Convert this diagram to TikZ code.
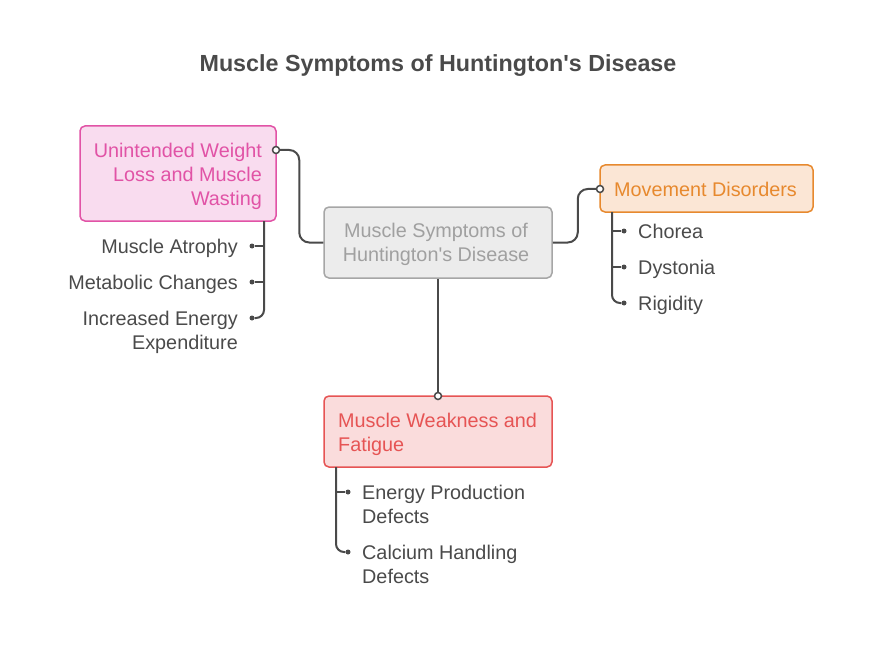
\documentclass[tikz,border=0pt]{standalone}
\usepackage{fontspec}
\setmainfont{Liberation Sans}
\definecolor{ink}{HTML}{4A4A4A}
\definecolor{cfill}{HTML}{ECECEC}
\definecolor{cdraw}{HTML}{A6A6A6}
\definecolor{ctext}{HTML}{A0A0A0}
\definecolor{pfill}{HTML}{F9DCEF}
\definecolor{pdraw}{HTML}{E153A6}
\definecolor{ofill}{HTML}{FBE6D5}
\definecolor{odraw}{HTML}{E7892E}
\definecolor{rfill}{HTML}{FADCDC}
\definecolor{rdraw}{HTML}{E65454}
\newcommand\bodyfont{\fontsize{19.8}{24}\selectfont}
\begin{document}
\begin{tikzpicture}[x=1pt,y=-1pt,
  box/.style={draw,rounded corners=5pt,line width=1.5pt,inner sep=0pt},
  lbl/.style={inner sep=0pt,font=\bodyfont,text=ink},
  conn/.style={draw=ink,line width=2pt,rounded corners=10pt},
  branch/.style={draw=ink,line width=2pt,rounded corners=8pt},
  port/.style={circle,draw=ink,fill=white,line width=1.5pt,minimum size=7pt,inner sep=0pt},
  dot/.style={circle,fill=ink,minimum size=5pt,inner sep=0pt}]
\useasboundingbox (0,0) rectangle (876,666);
\node[font=\fontsize{23.3}{28}\selectfont\bfseries,text=ink] (title) at (438,65.5) {Muscle Symptoms of Huntington\textquotesingle s Disease};
% boxes
\node[box,draw=cdraw,fill=cfill,minimum width=228pt,minimum height=71pt] (center) at (438,242.5) {};
\node[lbl,text=ctext,align=center] (centert) at (436,244.5) {Muscle Symptoms of\\Huntington\textquotesingle s Disease};
\node[box,draw=pdraw,fill=pfill,minimum width=196pt,minimum height=95pt] (pink) at (178,173.5) {};
\node[lbl,text=pdraw,align=right,anchor=east] (pinkt) at (262,176) {Unintended Weight\\Loss and Muscle\\Wasting};
\node[box,draw=odraw,fill=ofill,minimum width=213pt,minimum height=47pt] (orange) at (706.5,188.5) {};
\node[lbl,text=odraw,anchor=west] (oranget) at (614,189.5) {Movement Disorders};
\node[box,draw=rdraw,fill=rfill,minimum width=228pt,minimum height=71pt] (red) at (438,431.5) {};
\node[lbl,text=rdraw,align=left,anchor=west] (redt) at (338,434) {Muscle Weakness and\\Fatigue};
% ports
\coordinate (pinkport) at (276,150);
\coordinate (orangeport) at (600,189);
\coordinate (redport) at (438,396);
\draw[conn] (center.west) -- ++(-24,0) |- (pinkport);
\draw[conn] (center.east) -- ++(25,0) |- (orangeport);
\draw[conn] (center.south) -- (redport);
\node[port] (pp) at (pinkport) {};
\node[port] (op) at (orangeport) {};
\node[port] (rp) at (redport) {};
% pink children
\node[dot] (pa) at (252,246) {};
\node[dot] (pb) at (252,282) {};
\node[dot] (pc) at (252,318) {};
\coordinate (ptop) at (264,221);
\draw[branch] (ptop) |- (pc);
\draw[branch] (pa -| ptop) -- (pa);
\draw[branch] (pb -| ptop) -- (pb);
\node[lbl,anchor=east] (pat) at (238,248) {Muscle Atrophy};
\node[lbl,anchor=east] (pbt) at (238,284) {Metabolic Changes};
\node[lbl,anchor=east,align=right] (pct) at (238,332) {Increased Energy\\Expenditure};
% orange children
\node[dot] (oa) at (624,231) {};
\node[dot] (ob) at (624,267) {};
\node[dot] (oc) at (624,303) {};
\coordinate (otop) at (612,212);
\draw[branch] (otop) |- (oc);
\draw[branch] (oa -| otop) -- (oa);
\draw[branch] (ob -| otop) -- (ob);
\node[lbl,anchor=west] (oat) at (638,231) {Chorea};
\node[lbl,anchor=west] (obt) at (638,269) {Dystonia};
\node[lbl,anchor=west] (oct) at (638,305) {Rigidity};
% red children
\node[dot] (ra) at (348,492) {};
\node[dot] (rb) at (348,552) {};
\coordinate (rtop) at (336,467);
\draw[branch] (rtop) |- (rb);
\draw[branch] (ra -| rtop) -- (ra);
\node[lbl,anchor=west,align=left] (rat) at (362,504) {Energy Production\\Defects};
\node[lbl,anchor=west,align=left] (rbt) at (362,564) {Calcium Handling\\Defects};
\end{tikzpicture}
\end{document}
